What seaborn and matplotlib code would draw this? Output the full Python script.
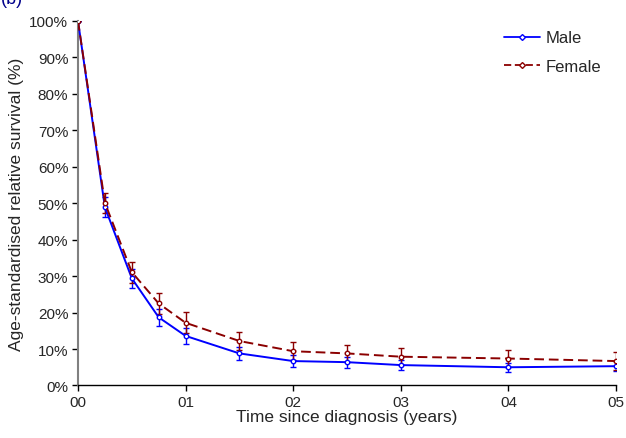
import numpy as np
import pandas as pd
import seaborn as sns
import matplotlib.pyplot as plt
from matplotlib.lines import Line2D

# data
years = [0, 0.25, 0.5, 0.75, 1, 1.5, 2, 2.5, 3, 4, 5]
male_surv = [100, 48.9, 29.4, 18.7, 13.6, 8.8, 6.7, 6.4, 5.6, 5.0, 5.3]
female_surv = [100, 50.1, 31.1, 22.5, 17.2, 12.2, 9.4, 8.8, 7.9, 7.4, 6.7]
male_err = [0, 2.7, 2.6, 2.3, 2.1, 1.8, 1.6, 1.5, 1.3, 1.3, 1.3]
female_err = [0, 2.8, 2.9, 2.9, 2.9, 2.6, 2.4, 2.4, 2.4, 2.4, 2.4]
xtick_labels = ["00", "01", "02", "03", "04", "05"]

male_col = "#0000ff"
female_col = "#8b0000"

df = pd.DataFrame({
    "years": years + years,
    "surv": male_surv + female_surv,
    "sex": ["Male"] * len(years) + ["Female"] * len(years),
})

sns.set_style("white")
plt.rcParams["font.family"] = ["Liberation Sans Narrow", "Liberation Sans", "DejaVu Sans"]

fig = plt.figure(figsize=(6.26, 4.39), dpi=100)
ax = fig.add_axes([0.1246, 0.1196, 0.8594, 0.8304])

ax.errorbar(years, male_surv, yerr=male_err, fmt="none", color=male_col,
            ecolor=male_col, elinewidth=1.0, capsize=2.5, capthick=1.0, zorder=2)
ax.errorbar(years, female_surv, yerr=female_err, fmt="none", color=female_col,
            ecolor=female_col, elinewidth=1.0, capsize=2.5, capthick=1.0, zorder=2)

sns.lineplot(data=df, x="years", y="surv", hue="sex", style="sex",
             palette={"Male": male_col, "Female": female_col},
             dashes={"Male": "", "Female": (5, 2.5)},
             markers={"Male": "o", "Female": "o"},
             markersize=3.2, markeredgewidth=1.0,
             linewidth=1.4, legend=False, ax=ax, zorder=3)

# seaborn gives markers a white edge; make them open circles in line colour
for ln in ax.lines:
    ln.set_markeredgecolor(ln.get_color())
    ln.set_markerfacecolor("white")

ax.set_xlim(0, 5)
ax.set_ylim(0, 100)
ax.set_xticks(range(6))
ax.set_xticklabels(xtick_labels)
ax.set_yticks(range(0, 101, 10))
ax.set_yticklabels([f"{v}%" for v in range(0, 101, 10)])
ax.tick_params(axis="both", labelsize=11, length=4, width=1, direction="out",
               color="black", bottom=True, left=True, pad=3)
ax.set_xlabel("Time since diagnosis (years)", fontsize=12.5, labelpad=0)
ax.set_ylabel("Age-standardised relative survival (%)", fontsize=12.5, labelpad=4)

for s in ["top", "right"]:
    ax.spines[s].set_visible(False)
ax.spines["left"].set_color("#808080")
ax.spines["left"].set_linewidth(1.5)
ax.spines["bottom"].set_color("black")
ax.spines["bottom"].set_linewidth(1.0)

handles = [
    Line2D([], [], color=male_col, lw=1.3, marker="D", markersize=3,
           markerfacecolor="white"),
    Line2D([], [], color=female_col, lw=1.3, ls=(0, (4, 2)), marker="D",
           markersize=3, markerfacecolor="white"),
]
ax.legend(handles, ["Male", "Female"], loc="upper right", frameon=False,
          fontsize=12, handlelength=2.2, handletextpad=0.3, labelspacing=0.8,
          bbox_to_anchor=(1.0, 1.015))

fig.text(0.002, 1.0, "(b)", color="#00008b", fontsize=13, va="center", ha="left")

fig.savefig("out.png", dpi=100)
